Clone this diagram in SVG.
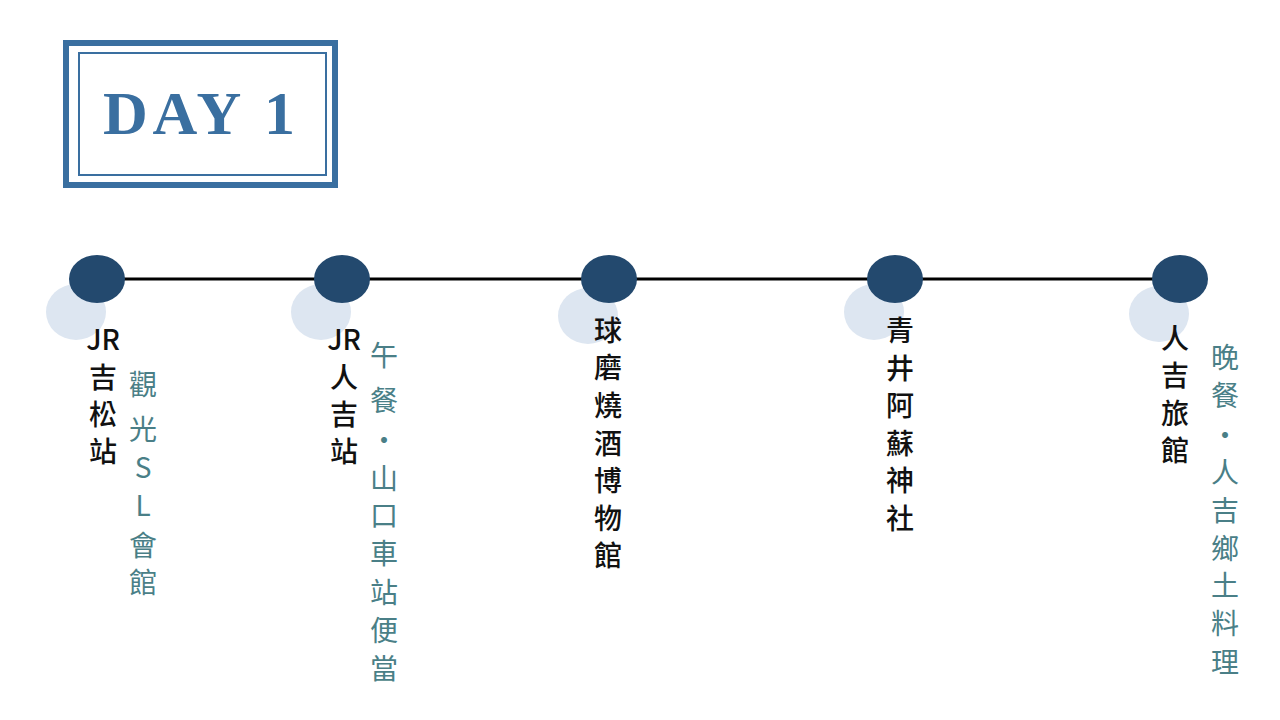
<svg xmlns="http://www.w3.org/2000/svg" width="1280" height="720" viewBox="0 0 1280 720">
<style>
.t{font-family:"Noto Sans CJK TC","Noto Sans CJK SC",sans-serif;font-size:28px;fill:#111;text-anchor:middle;font-weight:500}
.g{font-family:"Noto Sans CJK TC","Noto Sans CJK SC",sans-serif;font-size:28px;fill:#4a7f87;text-anchor:middle}
.dot{fill:#23496e}
.sh{fill:#dde6f1}
</style>
<rect width="1280" height="720" fill="#fff"/>
<g id="title">
<rect x="66" y="43" width="269" height="142" fill="none" stroke="#3a6fa0" stroke-width="6"/>
<rect x="79" y="53" width="247" height="122" fill="none" stroke="#3a6fa0" stroke-width="2"/>
<text x="199" y="134" font-family="Liberation Serif,serif" font-size="62" font-weight="bold" fill="#3a6fa0" text-anchor="middle" textLength="192">DAY 1</text>
</g>
<g id="connectors"><line x1="97" y1="279" x2="1180" y2="279" stroke="#000" stroke-width="3"/></g>
<g id="n1"><ellipse class="sh" cx="76" cy="312" rx="30" ry="28"/><ellipse class="dot" cx="97" cy="279" rx="28" ry="24"/>
<text class="t"><tspan x="103" y="350">JR</tspan><tspan x="103" y="388">吉</tspan><tspan x="103" y="425">松</tspan><tspan x="103" y="462">站</tspan></text>
<text class="g"><tspan x="143" y="395">觀</tspan><tspan x="143" y="440">光</tspan><tspan x="143" y="478">S</tspan><tspan x="143" y="516">L</tspan><tspan x="143" y="556">會</tspan><tspan x="143" y="593">館</tspan></text></g>
<g id="n2"><ellipse class="sh" cx="321" cy="312" rx="30" ry="28"/><ellipse class="dot" cx="342" cy="279" rx="28" ry="24"/>
<text class="t"><tspan x="344" y="350">JR</tspan><tspan x="344" y="388">人</tspan><tspan x="344" y="425">吉</tspan><tspan x="344" y="462">站</tspan></text>
<text class="g"><tspan x="384" y="366">午</tspan><tspan x="384" y="411">餐</tspan><tspan x="384" y="451">・</tspan><tspan x="384" y="489">山</tspan><tspan x="384" y="526">口</tspan><tspan x="384" y="564">車</tspan><tspan x="384" y="603">站</tspan><tspan x="384" y="641">便</tspan><tspan x="384" y="679">當</tspan></text></g>
<g id="n3"><ellipse class="sh" cx="588" cy="316" rx="30" ry="28"/><ellipse class="dot" cx="609" cy="279" rx="28" ry="24"/>
<text class="t"><tspan x="608" y="341">球</tspan><tspan x="608" y="378">磨</tspan><tspan x="608" y="416">燒</tspan><tspan x="608" y="454">酒</tspan><tspan x="608" y="491">博</tspan><tspan x="608" y="529">物</tspan><tspan x="608" y="566">館</tspan></text></g>
<g id="n4"><ellipse class="sh" cx="874" cy="312" rx="30" ry="28"/><ellipse class="dot" cx="895" cy="279" rx="28" ry="24"/>
<text class="t"><tspan x="900" y="341">青</tspan><tspan x="900" y="379">井</tspan><tspan x="900" y="416">阿</tspan><tspan x="900" y="454">蘇</tspan><tspan x="900" y="491">神</tspan><tspan x="900" y="529">社</tspan></text></g>
<g id="n5"><ellipse class="sh" cx="1159" cy="314" rx="30" ry="28"/><ellipse class="dot" cx="1180" cy="279" rx="28" ry="24"/>
<text class="t"><tspan x="1175" y="349">人</tspan><tspan x="1175" y="386">吉</tspan><tspan x="1175" y="424">旅</tspan><tspan x="1175" y="461">館</tspan></text>
<text class="g"><tspan x="1225" y="368">晚</tspan><tspan x="1225" y="406">餐</tspan><tspan x="1225" y="446">・</tspan><tspan x="1225" y="483">人</tspan><tspan x="1225" y="521">吉</tspan><tspan x="1225" y="559">鄉</tspan><tspan x="1225" y="596">土</tspan><tspan x="1225" y="634">料</tspan><tspan x="1225" y="673">理</tspan></text></g>
</svg>
